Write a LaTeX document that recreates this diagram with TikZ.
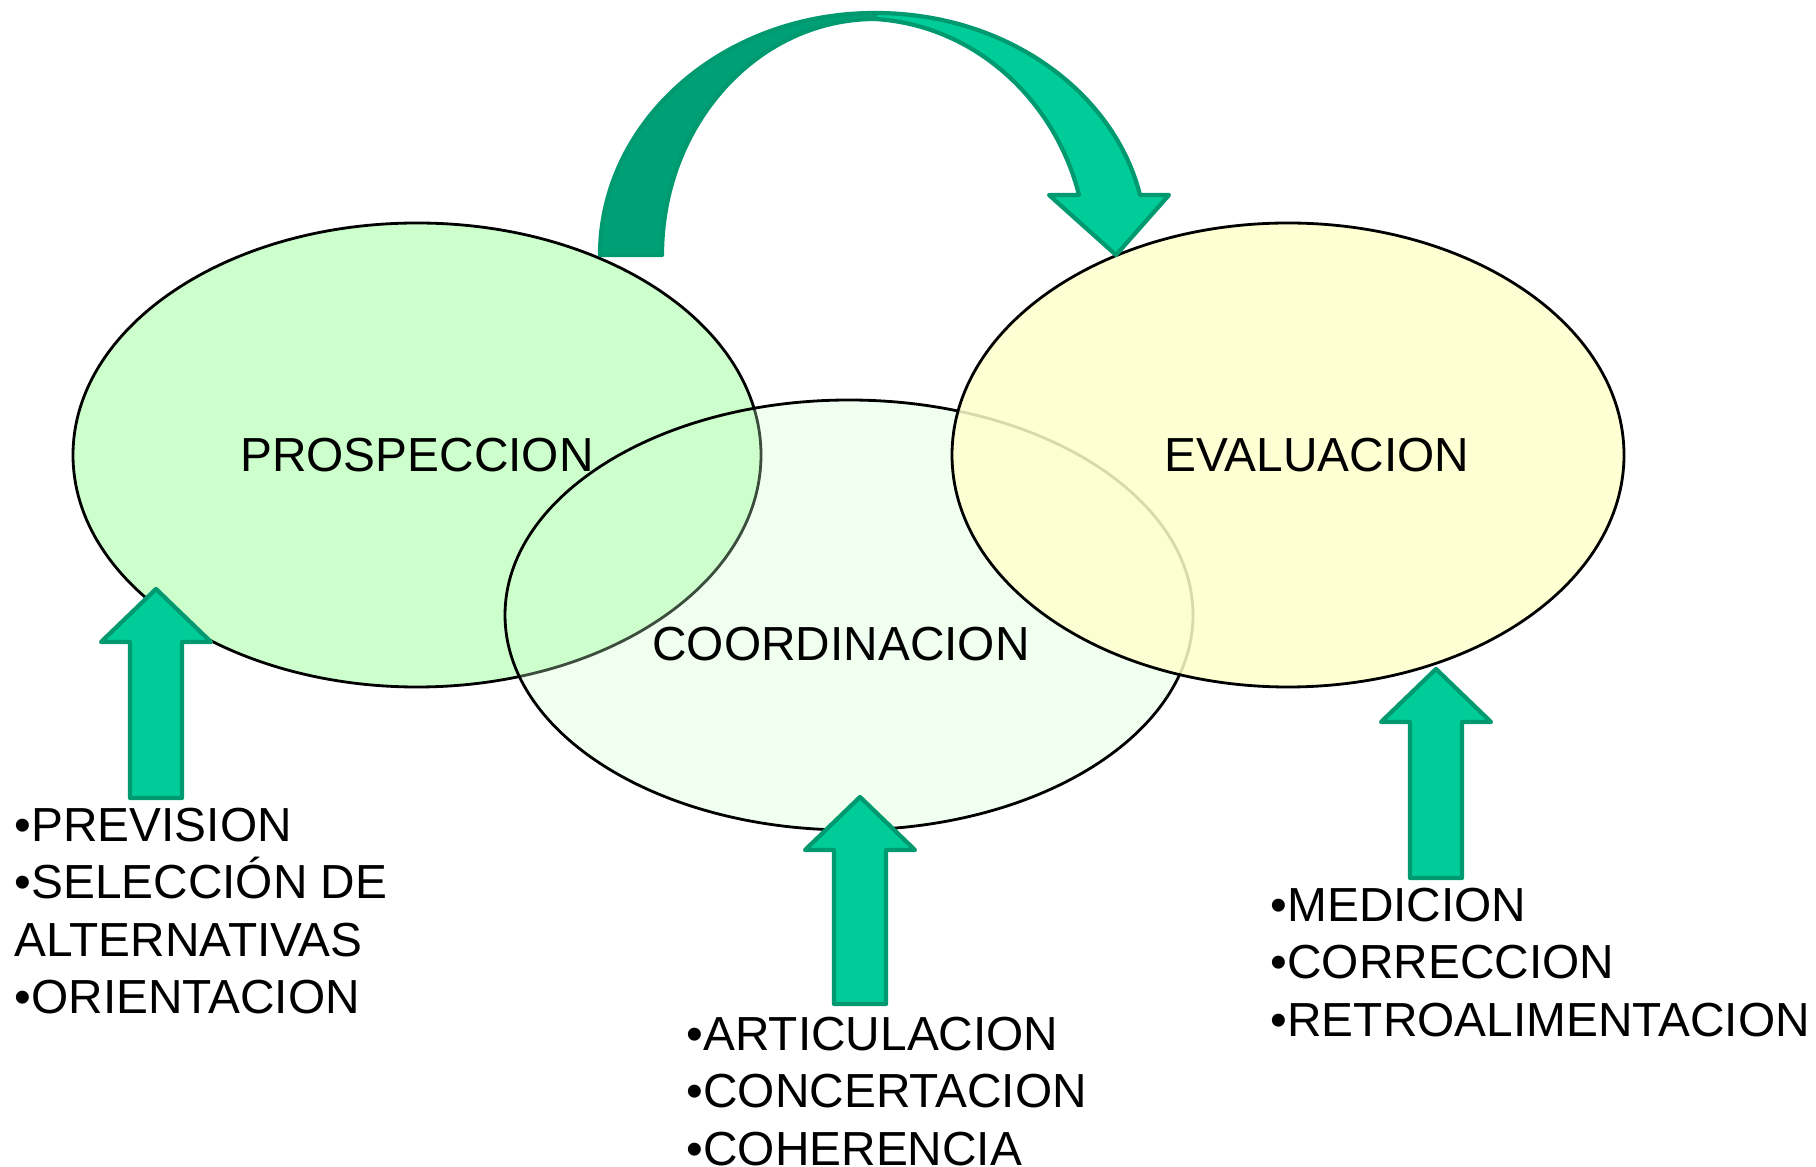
\documentclass[tikz,border=0pt]{standalone}
\usepackage{fontspec}
\setmainfont{Liberation Sans}
\usetikzlibrary{positioning}
\usetikzlibrary{shapes.geometric}
\definecolor{prosgreen}{HTML}{CCFFCC}
\definecolor{evalyellow}{HTML}{FFFFCC}
\definecolor{arrowgreen}{HTML}{00CC99}
\definecolor{arrowdark}{HTML}{00A077}
\definecolor{arrowline}{HTML}{009970}

\begin{document}
\begin{tikzpicture}
	\tikzstyle{every node}=[font=\fontsize{13.6}{16.4}\selectfont, inner sep=0pt]
	\tikzstyle{zone}=[ellipse, draw=black, line width=0.8pt]
	\tikzstyle{blockarrow}=[fill=arrowgreen, draw=arrowline, line width=1.2pt, line join=round]
	\useasboundingbox (0,0) rectangle (18.16,11.66);

	% the three stages
	\node (pros) [zone, fill=prosgreen, minimum width=6.88cm, minimum height=4.64cm] at (4.17,7.11) {};
	\node (coord) [zone, fill=prosgreen, fill opacity=0.3, minimum width=6.88cm, minimum height=4.30cm] at (8.49,5.51) {};
	\node (eval) [zone, fill=evalyellow, fill opacity=0.85, minimum width=6.72cm, minimum height=4.64cm] at (12.88,7.11) {};

	\node (prost) at (pros) {PROSPECCION};
	\node (coordt) at (8.41,5.22) {COORDINACION};
	\node (evalt) at (13.17,7.11) {EVALUACION};

	% lists below
	\node (prevl) [anchor=north west, align=left] at (0.14,3.59) {•PREVISION\\•SELECCIÓN DE\\ALTERNATIVAS\\•ORIENTACION};
	\node (artl) [anchor=north west, align=left] at (6.86,1.50) {•ARTICULACION\\•CONCERTACION\\•COHERENCIA};
	\node (medl) [anchor=north west, align=left] at (12.70,2.79) {•MEDICION\\•CORRECCION\\•RETROALIMENTACION};

	% block arrows up into the ellipses
	\foreach \cx/\yb/\yt in {1.56/3.68/5.77, 8.60/1.62/3.69, 14.36/2.88/4.97}
		\draw [blockarrow] (\cx-0.26,\yb) -- (\cx-0.26,\yt-0.53) -- (\cx-0.55,\yt-0.53) -- (\cx,\yt)
			-- (\cx+0.55,\yt-0.53) -- (\cx+0.26,\yt-0.53) -- (\cx+0.26,\yb) -- cycle;

	% curved arrow from prospeccion to evaluacion
	\draw [blockarrow, fill=arrowdark] (6.00,9.11) .. controls (6.00,10.45) and (7.23,11.53) .. (8.75,11.53)
		-- (8.75,11.47) .. controls (7.57,11.47) and (6.62,10.41) .. (6.62,9.11) -- cycle;
	\draw [blockarrow] (8.75,11.53) .. controls (10.10,11.53) and (11.15,10.71) .. (11.40,9.71)
		-- (11.69,9.71) -- (11.16,9.11) -- (10.49,9.71) -- (10.79,9.71)
		.. controls (10.55,10.66) and (9.75,11.41) .. (8.75,11.47) -- cycle;
\end{tikzpicture}
\end{document}
